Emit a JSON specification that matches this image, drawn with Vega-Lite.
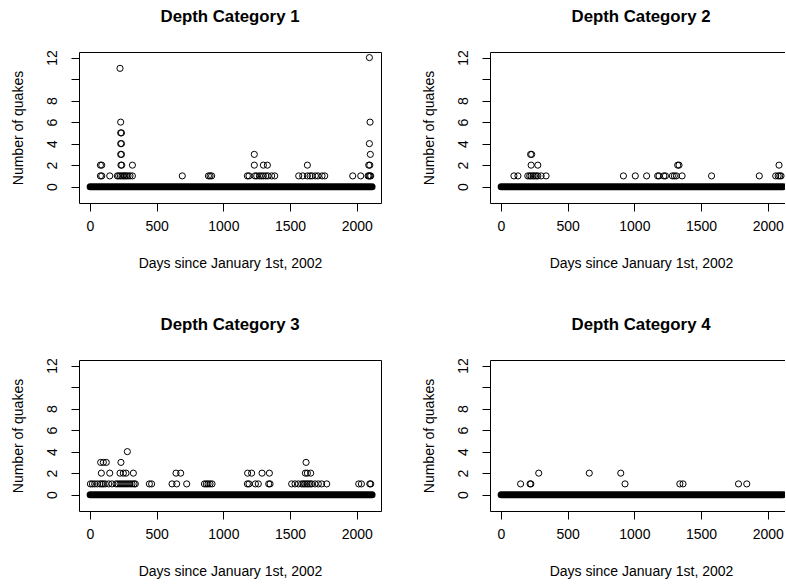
{
  "$schema": "https://vega.github.io/schema/vega-lite/v6.json",
  "background": "white",
  "autosize": {"type": "pad"},
  "padding": {"left": 11, "top": 9, "right": 0, "bottom": 0},
  "columns": 2,
  "spacing": {"row": 157, "column": 109},
  "bounds": "flush",
  "datasets": {
    "bands": [
      {"panel": 1, "start": 1, "end": 2115, "count": 0},
      {"panel": 2, "start": 1, "end": 2115, "count": 0},
      {"panel": 3, "start": 1, "end": 2115, "count": 0},
      {"panel": 4, "start": 1, "end": 2115, "count": 0}
    ],
    "pts": [
      {"panel":1,"day":78,"count":1},{"panel":1,"day":88,"count":1},{"panel":1,"day":148,"count":1},{"panel":1,"day":205,"count":1},{"panel":1,"day":215,"count":1},{"panel":1,"day":228,"count":1},{"panel":1,"day":240,"count":1},{"panel":1,"day":252,"count":1},{"panel":1,"day":262,"count":1},{"panel":1,"day":272,"count":1},{"panel":1,"day":285,"count":1},{"panel":1,"day":300,"count":1},{"panel":1,"day":318,"count":1},{"panel":1,"day":692,"count":1},{"panel":1,"day":888,"count":1},{"panel":1,"day":900,"count":1},{"panel":1,"day":912,"count":1},{"panel":1,"day":1180,"count":1},{"panel":1,"day":1192,"count":1},{"panel":1,"day":1237,"count":1},{"panel":1,"day":1250,"count":1},{"panel":1,"day":1270,"count":1},{"panel":1,"day":1285,"count":1},{"panel":1,"day":1300,"count":1},{"panel":1,"day":1318,"count":1},{"panel":1,"day":1335,"count":1},{"panel":1,"day":1362,"count":1},{"panel":1,"day":1385,"count":1},{"panel":1,"day":1565,"count":1},{"panel":1,"day":1595,"count":1},{"panel":1,"day":1630,"count":1},{"panel":1,"day":1650,"count":1},{"panel":1,"day":1665,"count":1},{"panel":1,"day":1690,"count":1},{"panel":1,"day":1710,"count":1},{"panel":1,"day":1740,"count":1},{"panel":1,"day":1760,"count":1},{"panel":1,"day":1970,"count":1},{"panel":1,"day":2030,"count":1},{"panel":1,"day":2085,"count":1},{"panel":1,"day":2092,"count":1},{"panel":1,"day":2098,"count":1},{"panel":1,"day":2105,"count":1},
      {"panel":1,"day":78,"count":2},{"panel":1,"day":88,"count":2},{"panel":1,"day":232,"count":2},{"panel":1,"day":238,"count":2},{"panel":1,"day":318,"count":2},{"panel":1,"day":1232,"count":2},{"panel":1,"day":1300,"count":2},{"panel":1,"day":1330,"count":2},{"panel":1,"day":1630,"count":2},{"panel":1,"day":2090,"count":2},{"panel":1,"day":2098,"count":2},
      {"panel":1,"day":230,"count":3},{"panel":1,"day":236,"count":3},{"panel":1,"day":1232,"count":3},{"panel":1,"day":2102,"count":3},
      {"panel":1,"day":230,"count":4},{"panel":1,"day":236,"count":4},{"panel":1,"day":2095,"count":4},
      {"panel":1,"day":230,"count":5},{"panel":1,"day":236,"count":5},
      {"panel":1,"day":230,"count":6},{"panel":1,"day":2100,"count":6},
      {"panel":1,"day":225,"count":11},
      {"panel":1,"day":2095,"count":12},
      {"panel":2,"day":97,"count":1},{"panel":2,"day":127,"count":1},{"panel":2,"day":201,"count":1},{"panel":2,"day":215,"count":1},{"panel":2,"day":226,"count":1},{"panel":2,"day":240,"count":1},{"panel":2,"day":251,"count":1},{"panel":2,"day":265,"count":1},{"panel":2,"day":276,"count":1},{"panel":2,"day":301,"count":1},{"panel":2,"day":338,"count":1},{"panel":2,"day":918,"count":1},{"panel":2,"day":1007,"count":1},{"panel":2,"day":1092,"count":1},{"panel":2,"day":1175,"count":1},{"panel":2,"day":1185,"count":1},{"panel":2,"day":1221,"count":1},{"panel":2,"day":1233,"count":1},{"panel":2,"day":1285,"count":1},{"panel":2,"day":1300,"count":1},{"panel":2,"day":1315,"count":1},{"panel":2,"day":1358,"count":1},{"panel":2,"day":1579,"count":1},{"panel":2,"day":1937,"count":1},{"panel":2,"day":2060,"count":1},{"panel":2,"day":2078,"count":1},{"panel":2,"day":2090,"count":1},{"panel":2,"day":2100,"count":1},
      {"panel":2,"day":226,"count":2},{"panel":2,"day":276,"count":2},{"panel":2,"day":1325,"count":2},{"panel":2,"day":1335,"count":2},{"panel":2,"day":2085,"count":2},
      {"panel":2,"day":222,"count":3},{"panel":2,"day":230,"count":3},
      {"panel":3,"day":3,"count":1},{"panel":3,"day":18,"count":1},{"panel":3,"day":35,"count":1},{"panel":3,"day":55,"count":1},{"panel":3,"day":75,"count":1},{"panel":3,"day":88,"count":1},{"panel":3,"day":100,"count":1},{"panel":3,"day":115,"count":1},{"panel":3,"day":140,"count":1},{"panel":3,"day":165,"count":1},{"panel":3,"day":195,"count":1},{"panel":3,"day":210,"count":1},{"panel":3,"day":225,"count":1},{"panel":3,"day":240,"count":1},{"panel":3,"day":255,"count":1},{"panel":3,"day":270,"count":1},{"panel":3,"day":285,"count":1},{"panel":3,"day":300,"count":1},{"panel":3,"day":315,"count":1},{"panel":3,"day":330,"count":1},{"panel":3,"day":340,"count":1},{"panel":3,"day":445,"count":1},{"panel":3,"day":462,"count":1},{"panel":3,"day":615,"count":1},{"panel":3,"day":650,"count":1},{"panel":3,"day":725,"count":1},{"panel":3,"day":858,"count":1},{"panel":3,"day":872,"count":1},{"panel":3,"day":885,"count":1},{"panel":3,"day":900,"count":1},{"panel":3,"day":915,"count":1},{"panel":3,"day":1180,"count":1},{"panel":3,"day":1192,"count":1},{"panel":3,"day":1240,"count":1},{"panel":3,"day":1262,"count":1},{"panel":3,"day":1340,"count":1},{"panel":3,"day":1350,"count":1},{"panel":3,"day":1512,"count":1},{"panel":3,"day":1537,"count":1},{"panel":3,"day":1562,"count":1},{"panel":3,"day":1587,"count":1},{"panel":3,"day":1600,"count":1},{"panel":3,"day":1612,"count":1},{"panel":3,"day":1625,"count":1},{"panel":3,"day":1637,"count":1},{"panel":3,"day":1650,"count":1},{"panel":3,"day":1662,"count":1},{"panel":3,"day":1687,"count":1},{"panel":3,"day":1712,"count":1},{"panel":3,"day":1737,"count":1},{"panel":3,"day":1775,"count":1},{"panel":3,"day":2015,"count":1},{"panel":3,"day":2035,"count":1},{"panel":3,"day":2098,"count":1},{"panel":3,"day":2105,"count":1},
      {"panel":3,"day":85,"count":2},{"panel":3,"day":148,"count":2},{"panel":3,"day":225,"count":2},{"panel":3,"day":250,"count":2},{"panel":3,"day":270,"count":2},{"panel":3,"day":325,"count":2},{"panel":3,"day":645,"count":2},{"panel":3,"day":680,"count":2},{"panel":3,"day":1182,"count":2},{"panel":3,"day":1212,"count":2},{"panel":3,"day":1290,"count":2},{"panel":3,"day":1345,"count":2},{"panel":3,"day":1615,"count":2},{"panel":3,"day":1630,"count":2},{"panel":3,"day":1655,"count":2},
      {"panel":3,"day":80,"count":3},{"panel":3,"day":100,"count":3},{"panel":3,"day":122,"count":3},{"panel":3,"day":232,"count":3},{"panel":3,"day":1620,"count":3},
      {"panel":3,"day":280,"count":4},
      {"panel":4,"day":147,"count":1},{"panel":4,"day":218,"count":1},{"panel":4,"day":224,"count":1},{"panel":4,"day":930,"count":1},{"panel":4,"day":1341,"count":1},{"panel":4,"day":1365,"count":1},{"panel":4,"day":1781,"count":1},{"panel":4,"day":1843,"count":1},
      {"panel":4,"day":283,"count":2},{"panel":4,"day":662,"count":2},{"panel":4,"day":898,"count":2}
    ]
  },
  "config": {
    "view": {"stroke": null},
    "font": "Liberation Sans",
    "axis": {"labelFont": "Liberation Sans", "titleFont": "Liberation Sans", "labelFontSize": 14, "titleFontSize": 14, "labelColor": "black", "titleColor": "black", "titleFontWeight": "normal", "domainColor": "black", "domainWidth": 1, "tickColor": "black", "tickWidth": 1, "grid": false},
    "title": {"font": "Liberation Sans", "fontSize": 16.8, "fontWeight": "bold", "color": "black", "anchor": "middle", "frame": "group", "baseline": "alphabetic", "offset": 24}
  },
  "concat": [
    {
      "width": 302, "height": 151,
      "title": {"text": "Depth Category 1"},
      "layer": [
        {
          "data": {"name": "bands"},
          "transform": [{"filter": "datum.panel == 1"}],
          "mark": {"type": "rule", "strokeWidth": 7, "strokeCap": "round", "color": "black", "clip": true},
          "encoding": {
            "x": {"field": "start", "type": "quantitative", "scale": {"domain": [-82.5, 2182], "nice": false, "zero": false},
              "axis": {"orient": "bottom", "values": [0, 500, 1000, 1500, 2000], "format": "d", "tickSize": 8, "labelPadding": 19, "labelBaseline": "alphabetic", "labelAlign": "center", "labelFlush": false, "labelOverlap": false, "domain": true, "title": "Days since January 1st, 2002", "titleX": 151, "titleY": 64.5, "titleBaseline": "alphabetic", "titleAlign": "center", "titleAngle": 0}},
            "x2": {"field": "end"},
            "y": {"field": "count", "type": "quantitative", "scale": {"domain": [-1.52, 12.52], "nice": false, "zero": false},
              "axis": {"orient": "left", "values": [0, 2, 4, 6, 8, 10, 12], "labelExpr": "datum.value == 10 ? '' : datum.label", "tickSize": 8, "labelPadding": 15, "labelAngle": 270, "labelAlign": "center", "labelBaseline": "alphabetic", "labelOverlap": false, "labelFlush": false, "domain": true, "title": "Number of quakes", "titleX": -57, "titleY": 75.5, "titleAngle": 270, "titleAlign": "center", "titleBaseline": "alphabetic"}}
          }
        },
        {
          "data": {"name": "pts"},
          "transform": [{"filter": "datum.panel == 1"}],
          "mark": {"type": "point", "shape": "circle", "filled": false, "color": "black", "strokeWidth": 1, "size": 38, "opacity": 1, "clip": true},
          "encoding": {
            "x": {"field": "day", "type": "quantitative", "scale": {"domain": [-82.5, 2182], "nice": false, "zero": false},
              "axis": {"orient": "top", "domain": true, "ticks": false, "labels": false, "title": null}},
            "y": {"field": "count", "type": "quantitative", "scale": {"domain": [-1.52, 12.52], "nice": false, "zero": false},
              "axis": {"orient": "right", "domain": true, "ticks": false, "labels": false, "title": null}}
          }
        }
      ],
      "resolve": {"axis": {"x": "independent", "y": "independent"}}
    },
    {
      "width": 295, "height": 151,
      "title": {"text": "Depth Category 2", "dx": 3.5},
      "layer": [
        {
          "data": {"name": "bands"},
          "transform": [{"filter": "datum.panel == 2"}],
          "mark": {"type": "rule", "strokeWidth": 7, "strokeCap": "round", "color": "black", "clip": true},
          "encoding": {
            "x": {"field": "start", "type": "quantitative", "scale": {"domain": [-82.5, 2129.7], "nice": false, "zero": false},
              "axis": {"orient": "bottom", "values": [0, 500, 1000, 1500, 2000], "format": "d", "tickSize": 8, "labelPadding": 19, "labelBaseline": "alphabetic", "labelAlign": "center", "labelFlush": false, "labelOverlap": false, "domain": true, "title": "Days since January 1st, 2002", "titleX": 151, "titleY": 64.5, "titleBaseline": "alphabetic", "titleAlign": "center", "titleAngle": 0}},
            "x2": {"field": "end"},
            "y": {"field": "count", "type": "quantitative", "scale": {"domain": [-1.52, 12.52], "nice": false, "zero": false},
              "axis": {"orient": "left", "values": [0, 2, 4, 6, 8, 10, 12], "labelExpr": "datum.value == 10 ? '' : datum.label", "tickSize": 8, "labelPadding": 15, "labelAngle": 270, "labelAlign": "center", "labelBaseline": "alphabetic", "labelOverlap": false, "labelFlush": false, "domain": true, "title": "Number of quakes", "titleX": -57, "titleY": 75.5, "titleAngle": 270, "titleAlign": "center", "titleBaseline": "alphabetic"}}
          }
        },
        {
          "data": {"name": "pts"},
          "transform": [{"filter": "datum.panel == 2"}],
          "mark": {"type": "point", "shape": "circle", "filled": false, "color": "black", "strokeWidth": 1, "size": 38, "opacity": 1, "clip": true},
          "encoding": {
            "x": {"field": "day", "type": "quantitative", "scale": {"domain": [-82.5, 2129.7], "nice": false, "zero": false},
              "axis": {"orient": "top", "domain": true, "ticks": false, "labels": false, "title": null}},
            "y": {"field": "count", "type": "quantitative", "scale": {"domain": [-1.52, 12.52], "nice": false, "zero": false}, "axis": null}
          }
        }
      ],
      "resolve": {"axis": {"x": "independent", "y": "independent"}}
    },
    {
      "width": 302, "height": 151,
      "title": {"text": "Depth Category 3"},
      "layer": [
        {
          "data": {"name": "bands"},
          "transform": [{"filter": "datum.panel == 3"}],
          "mark": {"type": "rule", "strokeWidth": 7, "strokeCap": "round", "color": "black", "clip": true},
          "encoding": {
            "x": {"field": "start", "type": "quantitative", "scale": {"domain": [-82.5, 2182], "nice": false, "zero": false},
              "axis": {"orient": "bottom", "values": [0, 500, 1000, 1500, 2000], "format": "d", "tickSize": 8, "labelPadding": 19, "labelBaseline": "alphabetic", "labelAlign": "center", "labelFlush": false, "labelOverlap": false, "domain": true, "title": "Days since January 1st, 2002", "titleX": 151, "titleY": 64.5, "titleBaseline": "alphabetic", "titleAlign": "center", "titleAngle": 0}},
            "x2": {"field": "end"},
            "y": {"field": "count", "type": "quantitative", "scale": {"domain": [-1.52, 12.52], "nice": false, "zero": false},
              "axis": {"orient": "left", "values": [0, 2, 4, 6, 8, 10, 12], "labelExpr": "datum.value == 10 ? '' : datum.label", "tickSize": 8, "labelPadding": 15, "labelAngle": 270, "labelAlign": "center", "labelBaseline": "alphabetic", "labelOverlap": false, "labelFlush": false, "domain": true, "title": "Number of quakes", "titleX": -57, "titleY": 75.5, "titleAngle": 270, "titleAlign": "center", "titleBaseline": "alphabetic"}}
          }
        },
        {
          "data": {"name": "pts"},
          "transform": [{"filter": "datum.panel == 3"}],
          "mark": {"type": "point", "shape": "circle", "filled": false, "color": "black", "strokeWidth": 1, "size": 38, "opacity": 1, "clip": true},
          "encoding": {
            "x": {"field": "day", "type": "quantitative", "scale": {"domain": [-82.5, 2182], "nice": false, "zero": false},
              "axis": {"orient": "top", "domain": true, "ticks": false, "labels": false, "title": null}},
            "y": {"field": "count", "type": "quantitative", "scale": {"domain": [-1.52, 12.52], "nice": false, "zero": false},
              "axis": {"orient": "right", "domain": true, "ticks": false, "labels": false, "title": null}}
          }
        }
      ],
      "resolve": {"axis": {"x": "independent", "y": "independent"}}
    },
    {
      "width": 295, "height": 151,
      "title": {"text": "Depth Category 4", "dx": 3.5},
      "layer": [
        {
          "data": {"name": "bands"},
          "transform": [{"filter": "datum.panel == 4"}],
          "mark": {"type": "rule", "strokeWidth": 7, "strokeCap": "round", "color": "black", "clip": true},
          "encoding": {
            "x": {"field": "start", "type": "quantitative", "scale": {"domain": [-82.5, 2129.7], "nice": false, "zero": false},
              "axis": {"orient": "bottom", "values": [0, 500, 1000, 1500, 2000], "format": "d", "tickSize": 8, "labelPadding": 19, "labelBaseline": "alphabetic", "labelAlign": "center", "labelFlush": false, "labelOverlap": false, "domain": true, "title": "Days since January 1st, 2002", "titleX": 151, "titleY": 64.5, "titleBaseline": "alphabetic", "titleAlign": "center", "titleAngle": 0}},
            "x2": {"field": "end"},
            "y": {"field": "count", "type": "quantitative", "scale": {"domain": [-1.52, 12.52], "nice": false, "zero": false},
              "axis": {"orient": "left", "values": [0, 2, 4, 6, 8, 10, 12], "labelExpr": "datum.value == 10 ? '' : datum.label", "tickSize": 8, "labelPadding": 15, "labelAngle": 270, "labelAlign": "center", "labelBaseline": "alphabetic", "labelOverlap": false, "labelFlush": false, "domain": true, "title": "Number of quakes", "titleX": -57, "titleY": 75.5, "titleAngle": 270, "titleAlign": "center", "titleBaseline": "alphabetic"}}
          }
        },
        {
          "data": {"name": "pts"},
          "transform": [{"filter": "datum.panel == 4"}],
          "mark": {"type": "point", "shape": "circle", "filled": false, "color": "black", "strokeWidth": 1, "size": 38, "opacity": 1, "clip": true},
          "encoding": {
            "x": {"field": "day", "type": "quantitative", "scale": {"domain": [-82.5, 2129.7], "nice": false, "zero": false},
              "axis": {"orient": "top", "domain": true, "ticks": false, "labels": false, "title": null}},
            "y": {"field": "count", "type": "quantitative", "scale": {"domain": [-1.52, 12.52], "nice": false, "zero": false}, "axis": null}
          }
        }
      ],
      "resolve": {"axis": {"x": "independent", "y": "independent"}}
    }
  ]
}
